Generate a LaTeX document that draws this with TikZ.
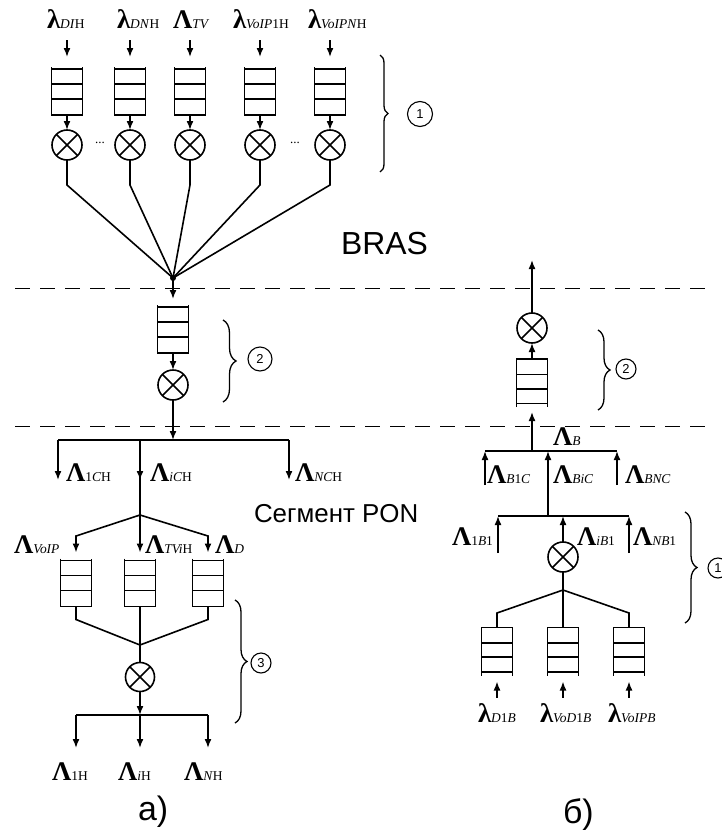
\documentclass[tikz,border=0pt]{standalone}
\usepackage{fontspec}
\setmainfont{Liberation Serif}
\newfontfamily\arialf{Liberation Sans}
\usetikzlibrary{arrows.meta,decorations.pathreplacing,calc}
\newcommand\glab[2]{{\fontsize{27}{27}\selectfont\bfseries #1}{\fontsize{13.5}{13.5}\selectfont #2}}
\newcommand\qopen[3]{%
  \node[qb] (#1) at (#2,#3) {};
  \draw (#1.north west) -- (#1.south west) -- (#1.south east) -- (#1.north east);
  \foreach \f in {0.04,0.35,0.67}{\draw ($(#1.north west)!\f!(#1.south west)$) -- ($(#1.north east)!\f!(#1.south east)$);}
}
\newcommand\qclosed[3]{%
  \node[qb] (#1) at (#2,#3) {};
  \draw (#1.south west) -- (#1.north west) -- (#1.north east) -- (#1.south east);
  \foreach \f in {0.32,0.62,0.93}{\draw ($(#1.north west)!\f!(#1.south west)$) -- ($(#1.north east)!\f!(#1.south east)$);}
}
\begin{document}
\begin{tikzpicture}[x=1bp,y=-1bp,line width=1.6bp,
  arr/.style={-{Latex[length=9bp,width=7bp]}},
  qb/.style={minimum width=31bp,minimum height=48bp,inner sep=0,outer sep=0},
  mux/.style={circle,draw,minimum size=30bp,inner sep=0,outer sep=0,
    path picture={\draw (path picture bounding box.south west) -- (path picture bounding box.north east)
      (path picture bounding box.north west) -- (path picture bounding box.south east);}},
  lab/.style={anchor=base west,inner sep=0,outer sep=0},
  numc/.style={circle,draw,line width=1.1bp,inner sep=0,font=\arialf\fontsize{13}{13}\selectfont},
  brc/.style={decorate,line width=1.3bp,decoration={brace,amplitude=#1}},
  dline/.style={line width=1bp,dash pattern=on 15bp off 10bp},
  big/.style={lab,font=\arialf\fontsize{#1}{#1}\selectfont}]
\useasboundingbox (0,0) rectangle (722,830);
% ---------- a) top section
\node[lab] (l1) at (47,28) {\glab{λ}{\textit{DI}Н}};
\node[lab] (l2) at (117,28) {\glab{λ}{\textit{DN}Н}};
\node[lab] (l3) at (173,28) {\glab{Λ}{\textit{TV}}};
\node[lab] (l4) at (233,28) {\glab{λ}{\textit{VoIP}1Н}};
\node[lab] (l5) at (308,28) {\glab{λ}{\textit{VoIPN}Н}};
\qopen{q1}{67}{91}
\qopen{q2}{130}{91}
\qopen{q3}{190}{91}
\qopen{q4}{260}{91}
\qopen{q5}{330}{91}
\foreach \i in {1,...,5}{\draw[arr] (q\i.north) +(0,-27) -- +(0,-10);}
\node[mux] (m1) at (67,145) {};
\node[mux] (m2) at (130,145) {};
\node[mux] (m3) at (190,145) {};
\node[mux] (m4) at (260,145) {};
\node[mux] (m5) at (330,145) {};
\foreach \i in {1,...,5}{\draw[arr] (q\i.south) -- (m\i.north);}
\node[inner sep=0] (d1) at (100,143) {\fontsize{13}{13}\selectfont ...};
\node[inner sep=0] (d2) at (295,143) {\fontsize{13}{13}\selectfont ...};
\node[circle,fill,inner sep=0,minimum size=6bp] (hub) at (173,278) {};
\foreach \i in {1,...,5}{\draw (m\i.south) -- ++(0,25) -- (hub.center);}
\draw[brc=8bp] (380,55) -- (380,172);
\node[numc,minimum size=25bp] (n1) at (420,114) {1};
\node[big=32] (bras) at (341,254) {BRAS};
\draw[dline] (15,288) -- (705,288);
\draw[dline] (15,426) -- (705,426);
% ---------- a) middle
\qopen{qa}{173}{329}
\node[mux] (ma) at (173,385) {};
\draw[arr] (hub.center) -- ([yshift=6bp]qa.north);
\draw[arr] (qa.south) -- (ma.north);
\draw[brc=13bp] (223,320) -- (223,402);
\node[numc,minimum size=24bp] (n2) at (260,359) {2};
\coordinate (b1) at (58,440);
\coordinate (b2) at (140,440);
\coordinate (b3) at (289,440);
\coordinate (bm) at (173,440);
\draw[arr] (ma.south) -- (bm);
\draw (b1) -- (b3);
\foreach \c in {b1,b2,b3}{\draw[arr] (\c) -- ++(0,40);}
\coordinate (j1) at (140,515);
\draw (b2) -- (j1);
\node[lab] (lc1) at (66,481) {\glab{Λ}{1\textit{C}Н}};
\node[lab] (lc2) at (150,481) {\glab{Λ}{\textit{iC}Н}};
\node[lab] (lc3) at (295,481) {\glab{Λ}{\textit{NC}Н}};
\node[big=26] (pon) at (254,522) {Сегмент PON};
% ---------- a) bottom
\qopen{qb1}{76}{582.5}
\qopen{qb2}{140}{582.5}
\qopen{qb3}{208}{582.5}
\draw[arr] (j1) -- (76,536) -- ([yshift=6bp]qb1.north);
\draw[arr] (j1) -- ([yshift=6bp]qb2.north);
\draw[arr] (j1) -- (208,536) -- ([yshift=6bp]qb3.north);
\node[lab] (lv) at (14,553) {\glab{Λ}{\textit{VoIP}}};
\node[lab] (lt) at (145,553) {\glab{Λ}{\textit{TVi}Н}};
\node[lab] (ld) at (215,553) {\glab{Λ}{\textit{D}}};
\coordinate (j2) at (140,645);
\draw (qb1.south) -- ++(0,13) -- (j2);
\draw (qb2.south) -- (j2);
\draw (qb3.south) -- ++(0,13) -- (j2);
\node[mux,minimum size=29bp] (mb) at (140,677) {};
\draw (j2) -- (mb.north);
\coordinate (c1) at (76,715);
\coordinate (c2) at (140,715);
\coordinate (c3) at (208,715);
\draw[arr] (mb.south) -- (c2);
\draw (c1) -- (c3);
\foreach \c in {c1,c2,c3}{\draw[arr] (\c) -- ++(0,33);}
\draw[brc=12bp] (235,600) -- (235,723);
\node[numc,minimum size=20bp] (n3) at (261,663) {3};
\node[lab] (lh1) at (52,780) {\glab{Λ}{1Н}};
\node[lab] (lh2) at (118,780) {\glab{Λ}{\textit{i}Н}};
\node[lab] (lh3) at (184,780) {\glab{Λ}{\textit{N}Н}};
\node[big=34] (capa) at (138,820) {а)};
% ---------- b)
\coordinate (top) at (532,260);
\node[mux] (mc) at (532,328) {};
\draw[arr] (mc.north) -- (top);
\qclosed{qc}{532}{383}
\draw[arr] (qc.north) -- (mc.south);
\draw[brc=12bp] (598,330) -- (598,410);
\node[numc,minimum size=20bp] (n2b) at (626,369) {2};
\coordinate (e1) at (485,451);
\coordinate (e2) at (548,451);
\coordinate (e3) at (617,451);
\coordinate (em) at (532,451);
\draw (e1) -- (e3);
\draw[arr] (em) -- ([yshift=-5bp]qc.south);
\node[lab] (lb) at (553,445) {\glab{Λ}{\textit{B}}};
\coordinate (f1) at (498,516);
\coordinate (f2) at (563,516);
\coordinate (f3) at (629,516);
\draw (f1) -- (f3);
\draw[arr] (e1) +(0,34) -- (e1);
\draw[arr] (e2 |- f1) -- (e2);
\draw[arr] (e3) +(0,34) -- (e3);
\node[lab] (lbc1) at (487,483) {\glab{Λ}{\textit{B}1\textit{C}}};
\node[lab] (lbc2) at (553,483) {\glab{Λ}{\textit{BiC}}};
\node[lab] (lbc3) at (625,483) {\glab{Λ}{\textit{BNC}}};
\node[mux] (md) at (563,557) {};
\draw[arr] (f1) +(0,37) -- (f1);
\draw[arr] (md.north) -- (f2);
\draw[arr] (f3) +(0,37) -- (f3);
\node[lab] (lb1) at (452,545) {\glab{Λ}{1\textit{B}1}};
\node[lab] (lb2) at (577,545) {\glab{Λ}{\textit{iB}1}};
\node[lab] (lb3) at (633,545) {\glab{Λ}{\textit{NB}1}};
\draw[brc=12bp] (685,512) -- (685,623);
\node[numc,minimum size=20bp] (n1b) at (718,568) {1};
\coordinate (j3) at (563,590);
\draw (md.south) -- (j3);
\qclosed{qd1}{497}{651.5}
\qclosed{qd2}{563}{651.5}
\qclosed{qd3}{629}{651.5}
\draw (j3) -- (497,613) -- (qd1.north);
\draw (j3) -- (qd2.north);
\draw (j3) -- (629,613) -- (qd3.north);
\foreach \i in {1,2,3}{\draw[arr] (qd\i.south) +(0,22) -- +(0,6);}
\node[lab] (lx1) at (478,722) {\glab{λ}{\textit{D}1\textit{B}}};
\node[lab] (lx2) at (540,722) {\glab{λ}{\textit{VoD}1\textit{B}}};
\node[lab] (lx3) at (608,722) {\glab{λ}{\textit{VoIPB}}};
\node[big=34] (capb) at (563,823) {б)};
\end{tikzpicture}
\end{document}
